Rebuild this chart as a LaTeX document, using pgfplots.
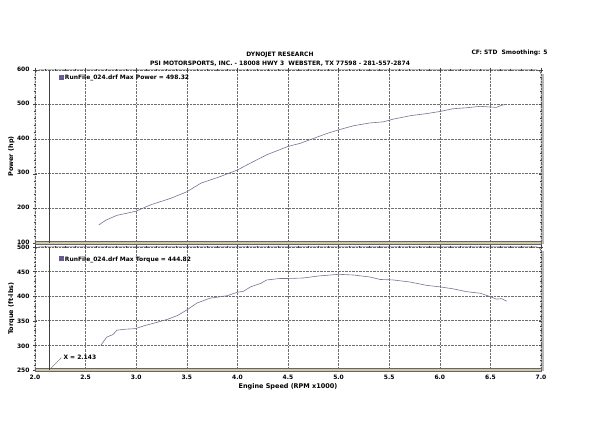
\documentclass[border=0pt]{standalone}
\usepackage{fontspec}
\setmainfont{DejaVu Sans}
\usepackage{pgfplots}
\pgfplotsset{compat=1.18}
\definecolor{curve}{RGB}{115,115,150}
\definecolor{frametan}{RGB}{208,198,165}
\definecolor{gridc}{RGB}{110,110,110}
\definecolor{legsq}{RGB}{105,90,145}
\newcommand{\tfont}{\bfseries\fontsize{6}{7}\selectfont}
\newcommand{\lfont}{\bfseries\fontsize{6.5}{7.5}\selectfont}
\pgfplotsset{dyno/.style={
  scale only axis, width=506bp, xmin=2, xmax=7,
  xtick={2,2.5,...,7},
  grid=major, major grid style={densely dotted, gridc, line width=0.6pt},
  axis line style={draw=none},
  tick style={black!75, line width=0.4pt},
  tick align=center, major tick length=4bp, minor tick length=2.5bp,
  minor tick num=4,
  tick label style={font=\tfont},
  label style={font=\lfont},
  /pgf/number format/assume math mode=true,
  clip=false,
}}
\pgfplotstableread{
x y
2.63 152
2.70 166
2.81 180
3.00 192
3.14 210
3.34 229
3.50 248
3.64 273
3.83 292
4.00 311
4.13 331
4.29 355
4.50 379
4.62 388
4.75 402
4.88 416
5.00 427
5.15 439
5.31 447
5.44 450
5.54 458
5.71 468
5.87 474
6.00 480
6.13 488
6.27 491
6.40 495
6.50 493
6.56 492
6.61 498
6.66 501
}\power
\pgfplotstableread{
x y
2.65 300
2.71 317
2.77 322
2.81 331
2.90 333
2.99 334
3.08 340
3.19 346
3.31 353
3.41 361
3.50 372
3.60 386
3.73 396
3.90 401
4.00 408
4.06 410
4.13 419
4.23 426
4.29 433
4.42 436
4.50 436
4.65 437
4.80 441
5.00 444.5
5.15 443
5.31 439
5.41 434
5.54 433
5.70 429
5.87 422
6.00 419
6.13 415
6.27 409
6.40 406
6.50 399
6.56 394
6.61 395
6.66 390
}\torque
\newcommand{\panelframe}{%
  \draw[gray!55, line width=2.2bp] ([xshift=2bp,yshift=-1bp]rel axis cs:1,0) -- ([xshift=2bp,yshift=-4bp]rel axis cs:1,1);
  \draw[black!70, line width=0.5pt, rounded corners=4bp] (rel axis cs:0,0) -- (rel axis cs:0,1) -- (rel axis cs:1,1) -- (rel axis cs:1,0);
  \fill[frametan, draw=black!60, line width=0.3pt] ([yshift=-1.6bp]rel axis cs:0,0) rectangle ([yshift=1.6bp]rel axis cs:1,0);
}
\begin{document}
\begin{tikzpicture}[x=1bp,y=1bp]
\useasboundingbox (0,0) rectangle (600,436);
\node[font=\tfont] at (280,381) {DYNOJET RESEARCH};
\node[font=\tfont] at (280,372) {PSI MOTORSPORTS, INC. - 18008 HWY 3\ \ WEBSTER, TX 77598 - 281-557-2874};
\node[font=\tfont, anchor=west] at (468,383) {CF: STD\ \ Smoothing: 5};
\begin{axis}[dyno, at={(35bp,193bp)}, anchor=south west, height=173bp,
  ymin=100, ymax=600, ytick={100,200,...,600},
  xticklabels={},
  yticklabel style={yshift=1bp},
  ylabel={Power (hp)}, ylabel style={at={(-17bp,0.5)}, anchor=south},
  ]
\panelframe
\addplot[curve, line width=0.6pt, mark=none] table {\power};
\draw[black!75, line width=0.45pt] (axis cs:2.143,100) -- (axis cs:2.143,600);
\node[anchor=west, font=\tfont, inner sep=0pt] at (axis cs:2.235,577) {\textcolor{legsq}{\rule{5bp}{5bp}}\,RunFile\_024.drf Max Power = 498.32};
\end{axis}
\begin{axis}[dyno, at={(35bp,66bp)}, anchor=south west, height=123bp,
  ymin=250, ymax=500, ytick={250,300,...,500},
  yticklabel style={yshift=-0.5bp},
  xticklabel style={/pgf/number format/.cd, fixed, fixed zerofill, precision=1},
  xlabel={Engine Speed (RPM x1000)}, xlabel style={at={(0.5,-10bp)}, anchor=north},
  ylabel={Torque (ft-lbs)}, ylabel style={at={(-17bp,0.5)}, anchor=south},
  ]
\panelframe
\addplot[curve, line width=0.6pt, mark=none] table {\torque};
\draw[black!75, line width=0.45pt] (axis cs:2.143,250) -- (axis cs:2.143,500);
\draw[black!60, line width=0.4pt] (axis cs:2.15,252) -- (axis cs:2.26,275);
\node[anchor=west, font=\tfont, inner sep=1pt] at (axis cs:2.27,276) {X = 2.143};
\node[anchor=west, font=\tfont, inner sep=0pt] at (axis cs:2.235,475) {\textcolor{legsq}{\rule{5bp}{5bp}}\,RunFile\_024.drf Max Torque = 444.82};
\end{axis}
\end{tikzpicture}
\end{document}
